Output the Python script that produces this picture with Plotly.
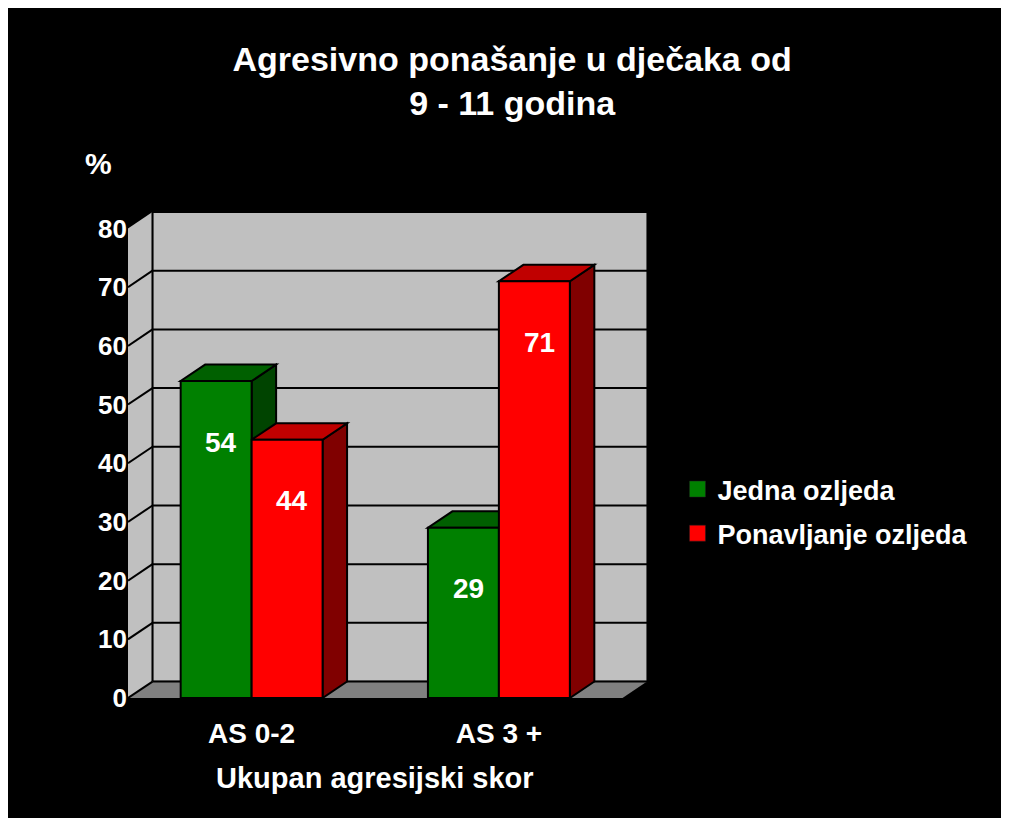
import plotly.graph_objects as go

# data
categories = ["AS 0-2", "AS 3 +"]
series_names = ["Jedna ozljeda", "Ponavljanje ozljeda"]
jedna_ozljeda = [54, 29]
ponavljanje_ozljeda = [44, 71]
y_ticks = [0, 10, 20, 30, 40, 50, 60, 70, 80]

title_text = "Agresivno ponašanje u dječaka od<br>9 - 11 godina"
x_title = "Ukupan agresijski skor"
y_title = "%"

# figure geometry (pixels); the page is a bit smaller than this, the
# overflow on the right/bottom just gets cut off
W, H = 1030, 840
L, T = 120, 204
PW, PH = 519.5, 486
R, B = W - L - PW, H - T - PH

# fake 3d depth, in data units
DX = 0.099
DY = 2.8
BAR_W = 0.287
Y_MAX = 80

FONT = "Liberation Sans, Arial, sans-serif"
colors = {
    "front": ["#008000", "#ff0000"],
    "top": ["#006000", "#c00000"],
    "side": ["#004400", "#800000"],
}
offsets = [-BAR_W, 0]


def px_x(px):
    return (px - L) / PW


def px_y(py):
    return (H - B - py) / PH


def poly(pts):
    return "M " + " L ".join(f"{x},{y}" for x, y in pts) + " Z"


fig = go.Figure()
values = [jedna_ozljeda, ponavljanje_ozljeda]
xs = list(range(len(categories)))

for s, (name, vals) in enumerate(zip(series_names, values)):
    fig.add_trace(go.Bar(
        x=xs, y=vals, name=name, width=BAR_W, offset=offsets[s],
        marker=dict(color=colors["front"][s], line=dict(color="black", width=2)),
        legendgroup=name, showlegend=False, hoverinfo="y",
    ))
    # legend entry with a bigger square swatch
    fig.add_trace(go.Scatter(
        x=[None], y=[None], mode="markers", name=name, legendgroup=name,
        marker=dict(symbol="square", size=16, color=colors["front"][s],
                    line=dict(color="#202020", width=0.5)),
    ))

shapes = []
x_lo, x_hi = -0.5, len(categories) - 0.5

# back wall
shapes.append(dict(type="rect", xref="x", yref="y", layer="below",
                   x0=x_lo + DX, x1=x_hi + DX, y0=DY, y1=Y_MAX + DY,
                   fillcolor="#c0c0c0", line=dict(color="#303030", width=1.5)))
# side wall
shapes.append(dict(type="path", xref="x", yref="y", layer="below",
                   path=poly([(x_lo, 0), (x_lo, Y_MAX), (x_lo + DX, Y_MAX + DY), (x_lo + DX, DY)]),
                   fillcolor="#c0c0c0", line=dict(width=0)))
# floor
shapes.append(dict(type="path", xref="x", yref="y", layer="below",
                   path=poly([(x_lo, 0), (x_hi, 0), (x_hi + DX, DY), (x_lo + DX, DY)]),
                   fillcolor="#808080", line=dict(width=0)))
# gridlines on back and side walls
for v in y_ticks:
    shapes.append(dict(type="line", xref="x", yref="y", layer="below",
                       x0=x_lo + DX, x1=x_hi + DX, y0=v + DY, y1=v + DY,
                       line=dict(color="black", width=2)))
    if v < Y_MAX:
        shapes.append(dict(type="line", xref="x", yref="y", layer="below",
                           x0=x_lo, x1=x_lo + DX, y0=v, y1=v + DY,
                           line=dict(color="black", width=2)))
shapes.append(dict(type="line", xref="x", yref="y", layer="below",
                   x0=x_lo + DX, x1=x_lo + DX, y0=DY, y1=Y_MAX + DY,
                   line=dict(color="black", width=2)))

# top and side faces of the bars
annotations = []
for i in xs:
    for s in range(len(series_names)):
        v = values[s][i]
        x0 = i + offsets[s]
        x1 = x0 + BAR_W
        top = poly([(x0, v), (x1, v), (x1 + DX, v + DY), (x0 + DX, v + DY)])
        side = poly([(x1, 0), (x1, v), (x1 + DX, v + DY), (x1 + DX, DY)])
        shapes.append(dict(type="path", xref="x", yref="y", layer="below", path=side,
                           fillcolor=colors["side"][s], line=dict(color="black", width=2)))
        shapes.append(dict(type="path", xref="x", yref="y", layer="below", path=top,
                           fillcolor=colors["top"][s], line=dict(color="black", width=2)))
        annotations.append(dict(x=(x0 + x1) / 2, y=v, xref="x", yref="y", text=str(v),
                                showarrow=False, xshift=5, yshift=-61, yanchor="middle",
                                font=dict(size=28, color="white", family=FONT, weight="bold")))

annotations.append(dict(x=(x_lo + x_hi) / 2, y=px_y(770), xref="x", yref="paper",
                        text=x_title, showarrow=False, xanchor="center", yanchor="middle",
                        font=dict(size=29, color="white", family=FONT, weight="bold")))
annotations.append(dict(x=px_x(90), y=px_y(155), xref="paper", yref="paper",
                        text=y_title, showarrow=False, xanchor="center", yanchor="middle",
                        font=dict(size=30, color="white", family=FONT, weight="bold")))

fig.update_layout(
    width=W, height=H,
    margin=dict(l=L, r=R, t=T, b=B, autoexpand=False),
    paper_bgcolor="black", plot_bgcolor="black",
    font=dict(family=FONT, color="white", weight="bold"),
    title=dict(text=title_text, xref="paper", x=px_x(504.5), xanchor="center",
               yref="container", y=1 - 63 / H, yanchor="top",
               font=dict(size=34, color="white", family=FONT, weight="bold")),
    xaxis=dict(range=[x_lo, x_hi + DX], tickvals=xs, ticktext=categories,
               showgrid=False, zeroline=False, showline=False, ticks="",
               tickfont=dict(size=28), ticklabelstandoff=16),
    yaxis=dict(range=[0, Y_MAX + DY], tickvals=y_ticks,
               showgrid=False, zeroline=False, showline=False, ticks="",
               tickfont=dict(size=26)),
    legend=dict(x=px_x(670), y=px_y(457), xanchor="left", yanchor="top",
                bgcolor="rgba(0,0,0,0)", font=dict(size=27, color="white"),
                tracegroupgap=6),
    bargap=0.426,
    shapes=shapes,
    annotations=annotations,
    showlegend=True,
)

fig.write_html("out.html")
